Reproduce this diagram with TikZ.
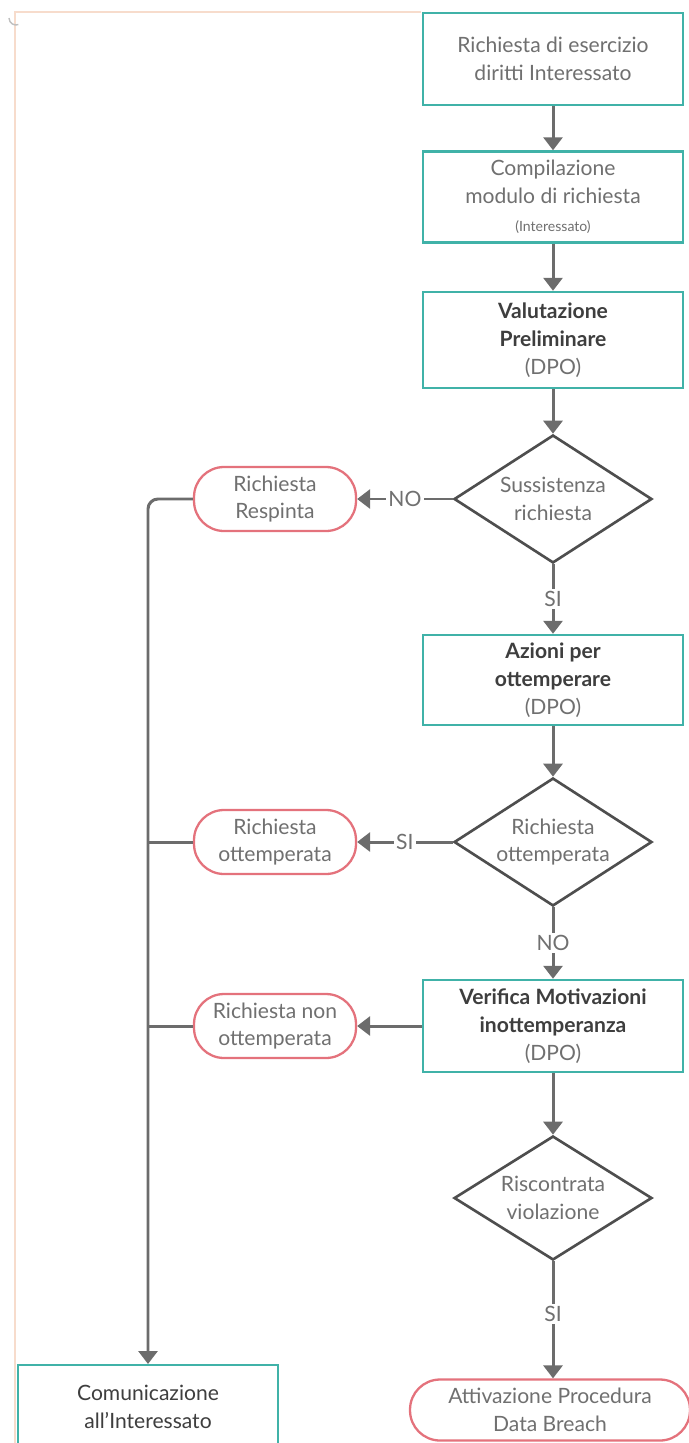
\documentclass[tikz,border=0pt]{standalone}
\usepackage{fontspec}
\setmainfont{Lato}
\usetikzlibrary{shapes.geometric,arrows.meta,positioning}

\definecolor{boxteal}{RGB}{64,178,168}
\definecolor{termred}{RGB}{228,114,124}
\definecolor{flowgrey}{RGB}{108,108,108}
\definecolor{decgrey}{RGB}{78,78,78}
\definecolor{txtgrey}{RGB}{112,112,112}
\definecolor{headgrey}{RGB}{62,62,62}
\definecolor{framepeach}{RGB}{247,220,204}

\newcommand{\boldline}[1]{\textcolor{headgrey}{\bfseries #1}}

\tikzset{
  base/.style={align=center, text=txtgrey, font=\fontsize{12}{15.8}\selectfont, inner sep=2pt},
  proc/.style={base, rectangle, draw=boxteal, line width=1.4pt, fill=white, minimum width=5.2cm},
  term/.style={base, rectangle, rounded corners=0.6cm, draw=termred, line width=1.3pt, fill=white},
  dec/.style={base, diamond, aspect=1.5, draw=decgrey, line width=1.5pt, fill=white,
    minimum width=3.96cm, minimum height=2.56cm, inner sep=0pt},
  flow/.style={draw=flowgrey, line width=1.7pt, -{Triangle[width=0.38cm,length=0.26cm]}},
  line/.style={draw=flowgrey, line width=1.7pt},
  lbl/.style={base, fill=white, inner sep=1.5pt}
}

\begin{document}
\begin{tikzpicture}[x=0.02cm, y=-0.02cm]

% page size of the scan
\useasboundingbox (0,0) rectangle (689,1443);
\clip (0,0) rectangle (689,1443);

% frame of the sheet
\draw[framepeach, line width=1.1pt] (421,12) -- (15,12) -- (15,1443);
\draw[black!25, line width=0.8pt] (9,18) arc (180:70:7);

% main column
\node[proc, minimum height=1.84cm] (richiesta) at (553,59)
  {Richiesta di esercizio\\diritti Interessato};
\node[proc, minimum height=1.82cm] (modulo) at (553,197)
  {Compilazione\\modulo di richiesta\\{\fontsize{8}{10}\selectfont (Interessato)}};
\node[proc, minimum height=1.92cm] (valutazione) at (553,340)
  {\boldline{Valutazione}\\\boldline{Preliminare}\\(DPO)};
\node[dec] (sussistenza) at (553,499) {Sussistenza\\richiesta};
\node[proc, minimum height=1.8cm] (azioni) at (553,680)
  {\boldline{Azioni per}\\\boldline{ottemperare}\\(DPO)};
\node[dec] (ottemperata) at (553,842) {Richiesta\\ottemperata};
\node[proc, minimum height=1.84cm] (verifica) at (553,1026)
  {\boldline{Verifica Motivazioni}\\\boldline{inottemperanza}\\(DPO)};
\node[dec, minimum height=2.48cm] (violazione) at (553,1198) {Riscontrata\\violazione};
\node[term, minimum width=5.6cm, minimum height=1.22cm] (breach) at (550,1410)
  {Attivazione Procedura\\Data Breach};

% outcomes on the left
\node[term, minimum width=3.24cm, minimum height=1.28cm] (respinta) at (275,499)
  {Richiesta\\Respinta};
\node[term, minimum width=3.24cm, minimum height=1.28cm] (esito) at (275,842)
  {Richiesta\\ottemperata};
\node[term, minimum width=3.24cm, minimum height=1.28cm] (nonesito) at (275,1026)
  {Richiesta non\\ottemperata};
\node[proc, text=headgrey, anchor=north, minimum width=5.2cm, minimum height=1.68cm] (comunicazione) at (148,1364)
  {Comunicazione\\all'Interessato};

% connectors
\draw[flow] (richiesta) -- (modulo);
\draw[flow] (modulo) -- (valutazione);
\draw[flow] (valutazione) -- (sussistenza);
\draw[flow] (sussistenza) -- node[lbl]{NO} (respinta);
\draw[flow] (sussistenza) -- node[lbl]{SI} (azioni);
\draw[flow] (azioni) -- (ottemperata);
\draw[flow] (ottemperata) -- node[lbl]{SI} (esito);
\draw[flow] (ottemperata) -- node[lbl]{NO} (verifica);
\draw[flow] (verifica) -- (nonesito);
\draw[flow] (verifica) -- (violazione);
\draw[flow] (violazione) -- node[lbl, pos=0.45]{SI} (violazione.south |- breach.north);

% collector line to the notice box
\draw[flow, rounded corners=0.2cm] (respinta.west) -| (comunicazione.north);
\draw[line] (esito.west) -- (esito.west -| comunicazione.north);
\draw[line] (nonesito.west) -- (nonesito.west -| comunicazione.north);

\end{tikzpicture}
\end{document}
